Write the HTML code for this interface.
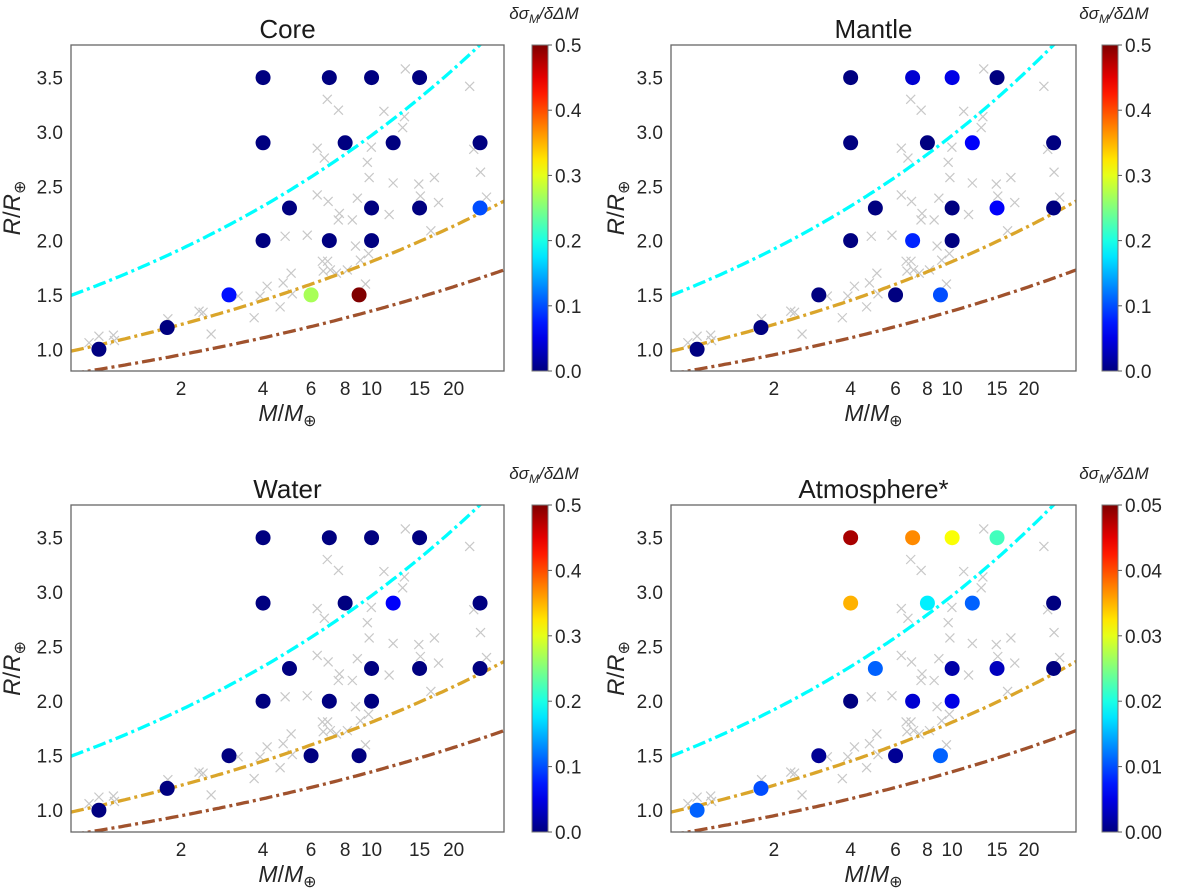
<!DOCTYPE html>
<html><head><meta charset="utf-8">
<style>
body{margin:0;background:#fff;}
svg{display:block;font-family:"Liberation Sans","DejaVu Sans",sans-serif;}
</style></head>
<body>
<svg id="fig" width="1200" height="889" viewBox="0 0 1200 889"></svg>
<script>
// ---- data ----
const pointMass   = [1, 1.78, 3, 6, 9, 4, 7, 10, 5, 10, 15, 25, 4, 8, 12, 25, 4, 7, 10, 15];
const pointRadius = [1.0, 1.2, 1.5, 1.5, 1.5, 2.0, 2.0, 2.0, 2.3, 2.3, 2.3, 2.3, 2.9, 2.9, 2.9, 2.9, 3.5, 3.5, 3.5, 3.5];
const coreValues   = [0, 0, 0.07, 0.27, 0.5, 0, 0, 0, 0, 0, 0, 0.1, 0, 0, 0, 0, 0, 0, 0, 0];
const mantleValues = [0, 0, 0, 0, 0.1, 0, 0.08, 0, 0, 0, 0.06, 0, 0, 0, 0.06, 0, 0, 0.04, 0.05, 0];
const waterValues  = [0, 0, 0, 0, 0, 0, 0, 0, 0, 0, 0, 0, 0, 0, 0.06, 0, 0, 0, 0, 0];
const atmoValues   = [0.011, 0.01, 0.001, 0.001, 0.011, 0, 0.004, 0.005, 0.011, 0.002, 0.003, 0, 0.035, 0.018, 0.011, 0, 0.048, 0.037, 0.031, 0.022];
const crossMass   = [13.3,22.9,6.88,7.56,11.1,13.2,13.0,6.32,9.98,23.7,6.71,9.65,25.1,9.8,17.0,12.0,14.9,6.32,6.93,8.87,15.1,17.6,26.4,7.62,7.55,8.5,11.6,16.5,4.82,5.81,8.73,6.6,6.9,9.1,9.75,7.06,6.65,5.07,7.43,8.15,4.14,4.74,3.9,5.12,9.5,4.62,3.71,0.92,1.0,1.13,1.14,1.79,2.33,2.41,2.58,3.24];
const crossRadius = [3.58,3.42,3.30,3.20,3.19,3.14,3.04,2.85,2.86,2.84,2.76,2.72,2.63,2.58,2.58,2.53,2.52,2.42,2.36,2.39,2.41,2.35,2.40,2.25,2.19,2.19,2.24,2.09,2.04,2.05,1.95,1.81,1.81,1.82,1.88,1.73,1.72,1.70,1.70,1.73,1.58,1.61,1.49,1.51,1.60,1.39,1.29,1.06,1.12,1.13,1.08,1.28,1.35,1.34,1.14,1.49];
// model curves R = a * M^b
const curveCoef = [1.594, 1.04, 0.815];
const curveExp  = [0.27, 0.24, 0.22];
const curveColor = ['#00ffff', '#daa52a', '#a0522d'];
const xTickVals = [2, 4, 6, 8, 10, 15, 20];
const yTickVals = [1.0, 1.5, 2.0, 2.5, 3.0, 3.5];
const cbTicksA = ['0.0','0.1','0.2','0.3','0.4','0.5'];
const cbTicksB = ['0.00','0.01','0.02','0.03','0.04','0.05'];

const XMIN=0.79, XMAX=30.6, YMIN=0.8, YMAX=3.8;
const NS='http://www.w3.org/2000/svg';
const svg=document.getElementById('fig');
function mk(tag, attrs, parent){const e=document.createElementNS(NS,tag);for(const k in attrs)e.setAttribute(k,attrs[k]);(parent||svg).appendChild(e);return e;}
function jet(t){t=Math.max(0,Math.min(1,t));const c=v=>Math.round(255*Math.max(0,Math.min(1,v)));
  return `rgb(${c(1.5-Math.abs(4*t-3))},${c(1.5-Math.abs(4*t-2))},${c(1.5-Math.abs(4*t-1))})`;}

const panels=[
 {name:'core',title:'Core',vals:coreValues,vmax:0.5,ticks:cbTicksA,x0:71,x1:504,y0:45,y1:371,cbx:532,ylx:18},
 {name:'mantle',title:'Mantle',vals:mantleValues,vmax:0.5,ticks:cbTicksA,x0:671,x1:1076,y0:45,y1:371,cbx:1102,ylx:622},
 {name:'water',title:'Water',vals:waterValues,vmax:0.5,ticks:cbTicksA,x0:71,x1:504,y0:505,y1:832,cbx:532,ylx:18},
 {name:'atmosphere',title:'Atmosphere*',vals:atmoValues,vmax:0.05,ticks:cbTicksB,x0:671,x1:1076,y0:505,y1:832,cbx:1102,ylx:622}
];
let gid=0;
panels.forEach(p=>{
  const g=mk('g',{});
  
  
  const sx=m=>p.x0+(Math.log10(m)-Math.log10(XMIN))/(Math.log10(XMAX)-Math.log10(XMIN))*(p.x1-p.x0);
  const sy=r=>p.y1-(r-YMIN)/(YMAX-YMIN)*(p.y1-p.y0);
  const cid='clip'+(gid++);
  const cp=mk('clipPath',{id:cid},g); mk('rect',{x:p.x0,y:p.y0,width:p.x1-p.x0,height:p.y1-p.y0},cp);
  const inner=mk('g',{'clip-path':`url(#${cid})`},g);
  crossMass.forEach((m,i)=>{
    const x=sx(m),y=sy(crossRadius[i]),s=4.5;
    const c=mk('path',{d:`M${x-s},${y-s}L${x+s},${y+s}M${x-s},${y+s}L${x+s},${y-s}`,stroke:'#c8c8c8','stroke-width':1.2,fill:'none'},inner);
    
    
  });
  curveCoef.forEach((a,k)=>{
    let d='';for(let i=0;i<=120;i++){const lm=Math.log10(XMIN)+i/120*(Math.log10(XMAX)-Math.log10(XMIN));const m=Math.pow(10,lm);d+=(i?'L':'M')+sx(m).toFixed(1)+','+sy(a*Math.pow(m,curveExp[k])).toFixed(1);}
    const l=mk('path',{d:d,stroke:curveColor[k],'stroke-width':3.3,fill:'none','stroke-dasharray':'13,4,3,4'},inner);
    
    
  });
  pointMass.forEach((m,i)=>{
    const c=mk('circle',{cx:sx(m),cy:sy(pointRadius[i]),r:7.5,fill:jet(p.vals[i]/p.vmax)},inner);
    
    
  });
  const fr=mk('rect',{x:p.x0,y:p.y0,width:p.x1-p.x0,height:p.y1-p.y0,fill:'none',stroke:'#666','stroke-width':1.3},g);
  
  
  xTickVals.forEach(v=>{
    const t=mk('text',{x:sx(v),y:p.y1+24,'text-anchor':'middle','font-size':19,fill:'#262626'},g);t.textContent=v;
    
    
  });
  yTickVals.forEach(v=>{
    const t=mk('text',{x:p.x0-8,y:sy(v)+7,'text-anchor':'end','font-size':19,fill:'#262626'},g);t.textContent=v.toFixed(1);
    
    
  });
  const tt=mk('text',{x:(p.x0+p.x1)/2,y:p.y0-7,'text-anchor':'middle','font-size':26,fill:'#1a1a1a'},g);tt.textContent=p.title;
  
  
  const xl=mk('text',{x:(p.x0+p.x1)/2,y:p.y1+50,'text-anchor':'middle','font-size':23,fill:'#262626'},g);
  xl.innerHTML='<tspan font-style="italic">M</tspan>/<tspan font-style="italic">M</tspan><tspan font-size="16" dy="5">⊕</tspan>';
  
  
  const yl=mk('text',{x:0,y:0,'text-anchor':'middle','font-size':24,fill:'#262626',transform:`translate(${p.ylx+2},${(p.y0+p.y1)/2}) rotate(-90)`},g);
  yl.innerHTML='<tspan font-style="italic">R</tspan>/<tspan font-style="italic">R</tspan><tspan font-size="16" dy="5">⊕</tspan>';
  
  
  const gr=mk('linearGradient',{id:'grad'+p.name,x1:0,y1:1,x2:0,y2:0},g);
  for(let i=0;i<=20;i++)mk('stop',{offset:i/20,'stop-color':jet(i/20)},gr);
  const cb=mk('rect',{x:p.cbx,y:p.y0,width:16,height:p.y1-p.y0,fill:`url(#grad${p.name})`,stroke:'#777','stroke-width':1},g);
  
  
  p.ticks.forEach((s,i)=>{
    const y=p.y1-i/(p.ticks.length-1)*(p.y1-p.y0);
    mk('line',{x1:p.cbx+16,x2:p.cbx+20,y1:y,y2:y,stroke:'#555'},g);
    const t=mk('text',{x:p.cbx+23,y:y+7,'font-size':19,fill:'#262626'},g);t.textContent=s;
    
    
  });
  const cl=mk('text',{x:p.cbx+12,y:p.y0-26,'text-anchor':'middle','font-size':17,'font-style':'italic',fill:'#262626'},g);
  cl.innerHTML='δσ<tspan font-size="12" dy="4">M</tspan><tspan dy="-4">/δΔM</tspan>';
  
  
});
</script>
</body></html>
